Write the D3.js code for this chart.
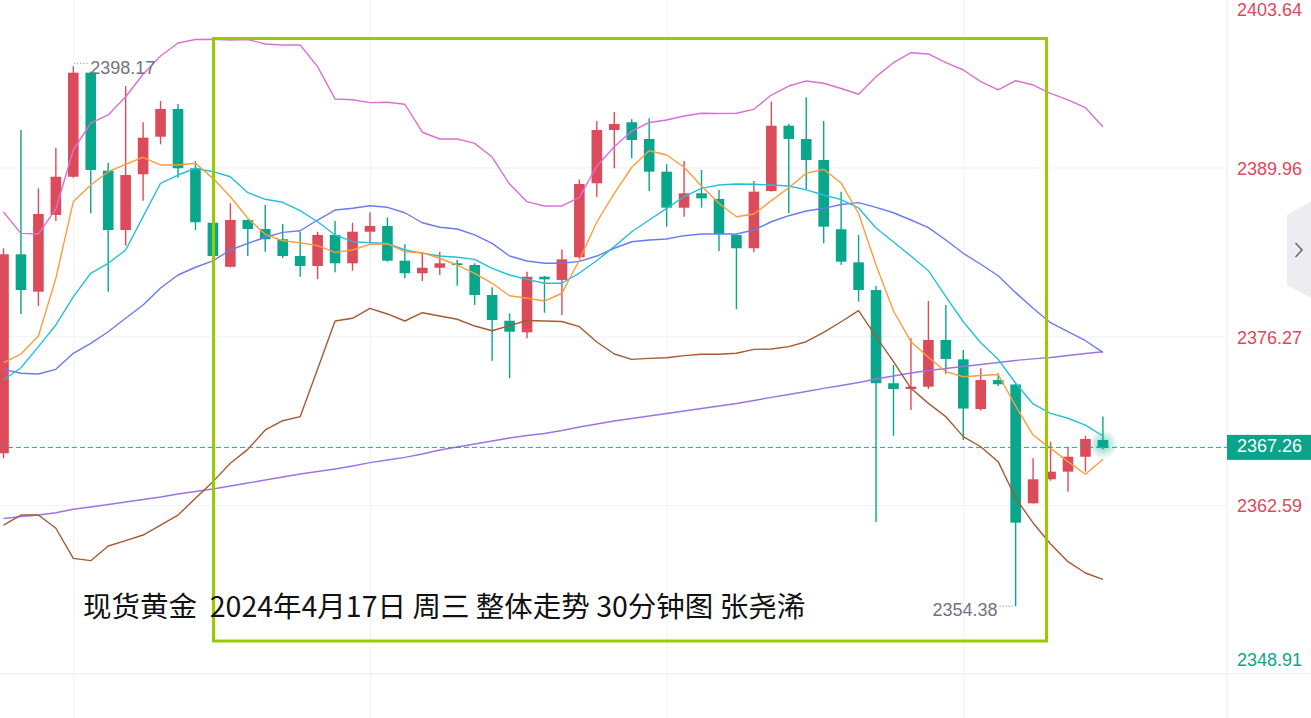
<!DOCTYPE html>
<html><head><meta charset="utf-8">
<script src="https://cdn.jsdelivr.net/npm/d3@7"></script>
<style>html,body{margin:0;padding:0;background:#fff;overflow:hidden}svg{display:block}</style>
</head><body>
<svg id="c" width="1311" height="718"></svg>
<script>
// ---------- data (30-minute bars, XAUUSD spot gold) ----------
const bars = d3.range(64); // bar index (categories)
const open = [2366.78,2382.92,2379.89,2386.11,2389.21,2397.65,2389.70,2384.89,2389.41,2392.46,
  2394.71,2389.90,2385.48,2381.91,2385.70,2384.97,2384.14,2382.78,2381.97,2384.49,
  2382.19,2384.75,2385.22,2382.40,2381.38,2381.83,2382.19,2382.05,2379.62,2377.53,
  2376.59,2381.10,2380.84,2382.68,2388.68,2393.00,2393.63,2392.27,2389.62,2386.70,
  2387.87,2387.41,2384.49,2383.41,2388.05,2393.35,2392.27,2390.57,2384.95,2382.27,
  2380.02,2372.46,2371.99,2372.18,2375.97,2374.40,2370.37,2372.72,2372.36,2362.72,
  2364.67,2365.29,2366.50,2367.86];
const high = [2383.41,2393.00,2388.27,2391.57,2398.17,2397.75,2390.35,2396.57,2393.63,2395.35,
  2395.11,2390.49,2385.55,2387.06,2385.75,2386.92,2385.38,2384.75,2384.75,2385.62,
  2385.48,2386.33,2385.92,2383.73,2382.94,2383.13,2382.46,2382.19,2380.24,2378.13,
  2381.51,2381.16,2383.31,2388.99,2393.73,2394.46,2393.87,2393.95,2390.22,2390.49,
  2389.76,2388.14,2384.54,2388.87,2395.30,2393.49,2395.65,2393.73,2388.00,2384.49,
  2380.35,2373.94,2376.11,2379.13,2378.81,2375.16,2373.67,2373.27,2372.44,2366.37,
  2367.72,2367.23,2368.21,2369.76];
const low = [2366.37,2378.08,2378.73,2385.62,2389.13,2386.25,2379.89,2383.62,2387.27,2391.84,
  2389.13,2384.89,2382.70,2381.85,2382.78,2383.13,2382.62,2381.10,2380.89,2381.46,
  2381.59,2383.81,2382.32,2380.97,2380.75,2381.24,2380.37,2378.81,2374.29,2372.86,
  2376.11,2378.18,2378.00,2382.60,2387.57,2389.90,2390.71,2388.05,2385.16,2385.97,
  2386.70,2383.19,2378.46,2383.08,2388.00,2386.25,2388.19,2383.81,2382.08,2379.08,
  2361.21,2368.21,2370.29,2371.99,2373.21,2367.86,2370.25,2372.24,2354.38,2362.70,
  2364.56,2363.66,2365.29,2367.10];
const close = [2382.92,2380.02,2386.19,2389.21,2397.65,2389.76,2384.89,2389.35,2392.38,2394.71,
  2389.90,2385.52,2382.78,2385.70,2384.97,2384.14,2382.78,2381.97,2384.49,2382.19,
  2384.75,2385.22,2382.40,2381.38,2381.83,2382.19,2382.05,2379.62,2377.59,2376.64,
  2381.10,2380.89,2382.51,2388.62,2393.00,2393.49,2392.19,2389.62,2386.70,2387.87,
  2387.46,2384.57,2383.41,2388.00,2393.35,2392.27,2390.57,2385.16,2382.32,2380.02,
  2372.46,2371.99,2372.18,2375.97,2374.43,2370.41,2372.72,2372.38,2361.15,2364.67,
  2365.29,2366.50,2367.94,2367.26];
const ma5 = [2374.13,2374.83,2376.29,2380.97,2387.19,2388.54,2389.62,2390.22,2390.79,2390.16,
  2390.16,2390.30,2389.08,2387.59,2385.84,2384.54,2384.02,2383.86,2383.62,2383.08,
  2383.27,2383.73,2383.76,2383.13,2383.05,2382.60,2382.05,2381.38,2380.57,2379.56,
  2379.35,2379.13,2379.76,2382.46,2385.54,2387.87,2389.98,2391.32,2390.97,2389.98,
  2388.46,2387.06,2385.97,2386.19,2387.27,2388.32,2389.49,2389.81,2388.70,2386.23,
  2382.05,2378.32,2375.83,2374.57,2373.40,2372.99,2373.09,2373.17,2370.62,2368.26,
  2367.18,2366.10,2365.08,2366.29];
const ma10 = [2372.72,2373.72,2375.43,2377.19,2379.46,2381.38,2382.19,2383.27,2385.97,2388.68,
  2389.35,2389.90,2389.62,2389.21,2387.92,2387.38,2387.14,2386.46,2385.56,2384.49,
  2383.94,2383.86,2383.81,2383.27,2383.00,2382.78,2382.68,2382.51,2381.78,2381.24,
  2380.89,2380.57,2380.57,2381.40,2382.42,2383.54,2384.75,2385.70,2386.65,2387.59,
  2388.27,2388.54,2388.62,2388.60,2388.54,2388.46,2388.14,2387.73,2387.36,2386.68,
  2385.05,2383.92,2382.78,2381.59,2379.48,2377.45,2375.75,2374.40,2372.46,2370.78,
  2370.02,2369.62,2369.07,2368.18];
const bollMid = [2373.59,2373.27,2373.21,2373.59,2374.89,2375.70,2376.64,2377.73,2378.81,2380.19,
  2381.24,2381.87,2382.38,2383.27,2383.81,2384.30,2384.70,2384.83,2385.70,2386.51,
  2386.65,2386.86,2386.73,2386.29,2385.48,2385.11,2384.97,2384.49,2383.81,2382.78,
  2382.38,2382.19,2382.19,2382.35,2382.78,2383.41,2383.94,2384.08,2384.16,2384.43,
  2384.57,2384.57,2384.57,2384.89,2385.56,2386.05,2386.43,2386.65,2386.96,2387.11,
  2386.72,2386.29,2385.70,2385.08,2384.08,2383.00,2382.11,2381.18,2379.81,2378.54,
  2377.37,2376.64,2375.91,2374.97];
const bollUp = [2386.35,2384.62,2384.57,2386.59,2391.38,2393.55,2394.22,2395.70,2397.52,2399.00,
  2400.06,2400.34,2400.36,2400.30,2400.34,2399.98,2399.90,2399.90,2398.14,2395.52,
  2395.46,2395.22,2395.25,2395.09,2392.82,2392.27,2392.27,2391.92,2390.81,2388.62,
  2387.19,2386.84,2386.84,2387.53,2390.08,2391.65,2392.92,2393.61,2393.81,2394.14,
  2394.36,2394.34,2394.36,2394.68,2395.84,2396.57,2396.98,2396.79,2396.37,2395.90,
  2397.33,2398.46,2399.27,2399.17,2398.46,2397.87,2396.92,2396.25,2397.00,2396.65,
  2395.98,2395.44,2394.81,2393.27];
const bollLow = [2360.96,2361.77,2361.77,2360.70,2358.26,2358.07,2359.26,2359.69,2360.15,2360.96,
  2361.77,2363.13,2364.48,2365.97,2367.10,2368.67,2369.42,2369.75,2373.62,2377.51,
  2377.73,2378.54,2378.08,2377.51,2378.18,2377.92,2377.65,2377.10,2376.72,2377.13,
  2377.55,2377.51,2377.47,2377.05,2375.81,2374.83,2374.40,2374.48,2374.53,2374.70,
  2374.81,2374.81,2374.89,2375.21,2375.24,2375.43,2375.83,2376.59,2377.45,2378.35,
  2376.24,2374.21,2372.05,2370.83,2369.75,2368.13,2367.31,2366.10,2363.15,2361.13,
  2359.42,2357.99,2357.07,2356.56];
const maLong = [2361.49,2361.64,2361.77,2361.96,2362.24,2362.42,2362.63,2362.83,2363.03,2363.23,
  2363.48,2363.68,2363.88,2364.13,2364.37,2364.61,2364.86,2365.10,2365.30,2365.51,
  2365.75,2366.02,2366.24,2366.45,2366.72,2367.05,2367.29,2367.53,2367.78,2368.02,
  2368.22,2368.38,2368.63,2368.91,2369.16,2369.40,2369.60,2369.80,2370.01,2370.21,
  2370.41,2370.62,2370.82,2371.06,2371.31,2371.55,2371.79,2372.04,2372.28,2372.52,
  2372.81,2373.05,2373.29,2373.50,2373.66,2373.82,2373.98,2374.14,2374.31,2374.44,
  2374.55,2374.71,2374.87,2375.02];
const priceTicks = [2403.64, 2389.96, 2376.27, 2362.59, 2348.91];
const gridBars = [4, 21, 38, 55];
const lastPrice = 2367.26;
const highLabel = {bar: 4, value: 2398.17};
const lowLabel = {bar: 58, value: 2354.38};
const title = "现货黄金  2024年4月17日 周三 整体走势 30分钟图 张尧浠";
const bottomCutLabel = "2.40735";

// ---------- layout ----------
const W = 1311, H = 718, plotR = 1227, paneB = 673.6;
const UP = "#dc4b5a", DOWN = "#08a68a";
const svg = d3.select("#c");
const x = d3.scaleLinear().domain([0, 63]).range([3.5, 1102.9]);
const y = d3.scaleLinear().domain([2348.91, 2389.96]).range([paneB, 167.5]);

svg.append("rect").attr("width", W).attr("height", H).attr("fill", "#fff");
const defs = svg.append("defs");
defs.append("clipPath").attr("id", "plot").append("rect").attr("x", 0).attr("y", 0).attr("width", plotR).attr("height", paneB);
const rg = defs.append("radialGradient").attr("id", "glow");
rg.append("stop").attr("offset", "0%").attr("stop-color", DOWN).attr("stop-opacity", 0.55);
rg.append("stop").attr("offset", "55%").attr("stop-color", DOWN).attr("stop-opacity", 0.22);
rg.append("stop").attr("offset", "100%").attr("stop-color", DOWN).attr("stop-opacity", 0);

// grids
svg.append("g")
  .call(d3.axisRight(y).tickValues(priceTicks).tickSize(plotR).tickFormat(""))
  .call(g => g.select(".domain").remove())
  .selectAll("line").attr("stroke", "#f1f1f5").attr("stroke-width", 1);
svg.append("g")
  .call(d3.axisBottom(x).tickValues(gridBars).tickSize(H).tickFormat(""))
  .call(g => g.select(".domain").remove())
  .selectAll("line").attr("stroke", "#f1f1f5").attr("stroke-width", 1);
svg.append("line").attr("x1", 0).attr("x2", W).attr("y1", paneB).attr("y2", paneB).attr("stroke", "#efeff3");
svg.append("line").attr("x1", plotR).attr("x2", plotR).attr("y1", 0).attr("y2", H).attr("stroke", "#e9e9ef");

const plot = svg.append("g").attr("clip-path", "url(#plot)");
const col = i => close[i] >= open[i] ? UP : DOWN;

// candles
plot.append("g").selectAll("line").data(bars).join("line")
  .attr("x1", i => x(i)).attr("x2", i => x(i))
  .attr("y1", i => y(high[i])).attr("y2", i => y(low[i]))
  .attr("stroke", col).attr("stroke-width", 1.4);
plot.append("g").selectAll("rect").data(bars).join("rect")
  .attr("x", i => x(i) - 5.3).attr("width", 10.6)
  .attr("y", i => y(Math.max(open[i], close[i])))
  .attr("height", i => Math.max(1.6, Math.abs(y(open[i]) - y(close[i]))))
  .attr("fill", col);

// indicator lines
const line = d3.line().x((d, i) => x(i)).y(d => y(d));
const series = [
  [maLong, "#9b74e4"],
  [bollLow, "#a65a33"],
  [bollUp, "#da70d6"],
  [bollMid, "#6a7af2"],
  [ma10, "#24bfdc"],
  [ma5, "#ff9c3e"]
];
series.forEach(([d, c]) => plot.append("path").datum(d).attr("d", line)
  .attr("fill", "none").attr("stroke", c).attr("stroke-width", 1.4).attr("stroke-linejoin", "round"));

// last price dashed line + glow
const yl = y(lastPrice);
svg.append("line").attr("x1", 0).attr("x2", plotR).attr("y1", yl).attr("y2", yl)
  .attr("stroke", "#17a98f").attr("stroke-width", 1).attr("stroke-dasharray", "5,3");
svg.append("circle").attr("cx", x(63)).attr("cy", yl - 3).attr("r", 15).attr("fill", "url(#glow)");

// highlight box
svg.append("rect").attr("x", 213.5).attr("y", 38.5).attr("width", 833).attr("height", 602.5)
  .attr("fill", "none").attr("stroke", "#99cc00").attr("stroke-width", 3);

// high / low markers
const lblFont = "'Liberation Sans', Arial, sans-serif";
const yh = y(highLabel.value);
svg.append("line").attr("x1", x(highLabel.bar) + 1).attr("x2", x(highLabel.bar) + 16)
  .attr("y1", yh - 3).attr("y2", yh - 3).attr("stroke", "#777b88").attr("stroke-dasharray", "1,2");
svg.append("text").attr("x", x(highLabel.bar) + 17).attr("y", yh + 3).attr("dominant-baseline", "middle")
  .attr("font-family", lblFont).attr("font-size", 18).attr("fill", "#6f7382").text(highLabel.value.toFixed(2));
const ylo = y(lowLabel.value);
svg.append("line").attr("x1", x(lowLabel.bar) - 16).attr("x2", x(lowLabel.bar) - 1)
  .attr("y1", ylo).attr("y2", ylo).attr("stroke", "#777b88").attr("stroke-dasharray", "1,2");
svg.append("text").attr("x", x(lowLabel.bar) - 18).attr("y", ylo + 5.5).attr("dominant-baseline", "middle")
  .attr("text-anchor", "end").attr("font-family", lblFont).attr("font-size", 18).attr("fill", "#6f7382")
  .text(lowLabel.value.toFixed(2));

// title
svg.append("text").attr("x", 83).attr("y", 616.5).attr("font-family", "'Noto Sans CJK SC', sans-serif")
  .attr("font-size", 28.5).attr("fill", "#111").attr("xml:space", "preserve").style("white-space", "pre").text(title);

// price axis
const ax = svg.append("g").attr("transform", `translate(${plotR},0)`)
  .call(d3.axisRight(y).tickValues(priceTicks).tickSize(0).tickPadding(10).tickFormat(d3.format(".2f")));
ax.select(".domain").remove();
ax.selectAll("text")
  .attr("font-family", lblFont).attr("font-size", 18)
  .attr("fill", d => d > 2355 ? "#e0475b" : "#0ea58a")
  .attr("dy", null).attr("dominant-baseline", "middle")
  .attr("y", d => Math.min(660.5, Math.max(11, y(d) + 2)) - y(d));

// last price tag
svg.append("rect").attr("x", plotR).attr("y", yl - 12.5).attr("width", W - plotR).attr("height", 25).attr("fill", "#0aa48a");
svg.append("text").attr("x", plotR + 10).attr("y", yl).attr("dominant-baseline", "middle")
  .attr("font-family", lblFont).attr("font-size", 18).attr("fill", "#fff").text(lastPrice.toFixed(2));

// collapse button
svg.append("path").attr("d", "M1311,201.5 L1287,215 L1287,285 L1311,298 Z").attr("fill", "#ececf1");
svg.append("path").attr("d", "M1295.5,243 L1302,250 L1295.5,257").attr("fill", "none")
  .attr("stroke", "#6a6e7c").attr("stroke-width", 1.6);

// label of the lower pane, cut by the window edge as in the reference
svg.append("text").attr("x", 1237).attr("y", 731).attr("font-family", lblFont).attr("font-size", 18)
  .attr("fill", "#777").text(bottomCutLabel);
</script>
</body></html>
